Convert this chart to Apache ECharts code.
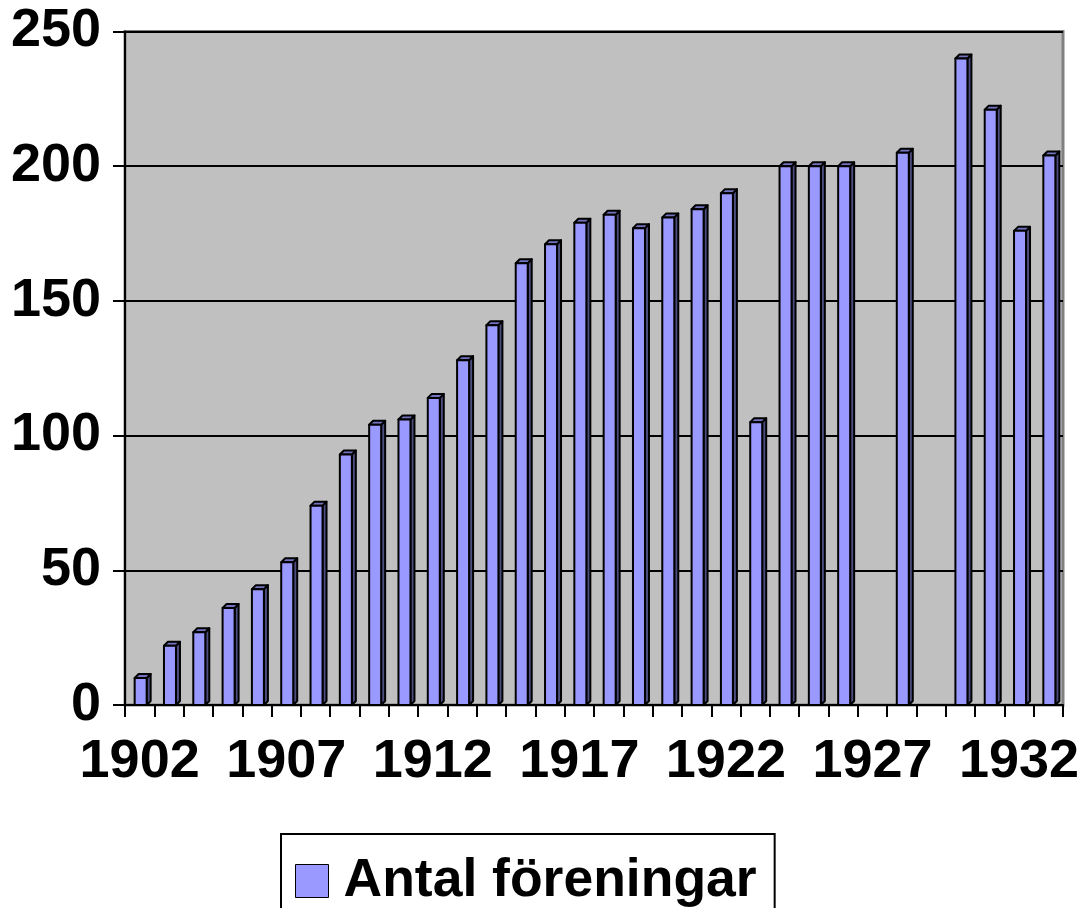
<!DOCTYPE html>
<html>
<head>
<meta charset="utf-8">
<script src="https://cdn.jsdelivr.net/npm/echarts@6/dist/echarts.min.js"></script>
<style>html,body{margin:0;padding:0;background:#fff;}#c{width:1087px;height:908px;}</style>
</head>
<body>
<div id="c"></div>
<script>
const years = ['1902','1903','1904','1905','1906','1907','1908','1909','1910','1911','1912','1913','1914','1915','1916','1917','1918','1919','1920','1921','1922','1923','1924','1925','1926','1927','1928','1929','1930','1931','1932','1933'];
const antal = [10,22,27,36,43,53,74,93,104,106,114,128,141,164,171,179,182,177,181,184,190,105,200,200,200,null,205,null,240,221,176,204];
const seriesName = 'Antal föreningar';
const yTicks = {min: 0, max: 250, interval: 50};

const FONT = "'Liberation Sans', Arial, sans-serif";
const chart = echarts.init(document.getElementById('c'), null, {renderer: 'canvas'});

function renderBar(params, api) {
  const v = api.value(1);
  if (v === null || v === undefined || isNaN(v)) return null;
  const top = api.coord([api.value(0), v]);
  const base = api.coord([api.value(0), 0]);
  const w = 12, d = 4;
  const x0 = top[0] - 5;
  const x1 = x0 + w;
  const y0 = top[1], y1 = base[1];
  const style = {stroke: '#000', lineWidth: 2, lineJoin: 'round'};
  return {
    type: 'group',
    children: [
      {type: 'polygon', shape: {points: [[x1, y0], [x1 + d, y0 - d], [x1 + d, y1 - d], [x1, y1]]}, style: Object.assign({fill: '#4d4d80'}, style)},
      {type: 'polygon', shape: {points: [[x0, y0], [x0 + d, y0 - d], [x1 + d, y0 - d], [x1, y0]]}, style: Object.assign({fill: '#7373bf'}, style)},
      {type: 'rect', shape: {x: x0, y: y0, width: w, height: y1 - y0}, style: Object.assign({fill: '#9999FF'}, style)}
    ]
  };
}

chart.setOption({
  animation: false,
  backgroundColor: '#ffffff',
  textStyle: {fontFamily: FONT},
  grid: {left: 125, right: 24, top: 31.5, bottom: 203, show: true, backgroundColor: '#C0C0C0', borderColor: '#808080', borderWidth: 3},
  legend: {
    left: 281, top: 834,
    data: [seriesName],
    itemWidth: 33, itemHeight: 33,
    itemGap: 10,
    padding: [20, 18, 20, 14],
    borderColor: '#000', borderWidth: 2,
    backgroundColor: '#fff',
    icon: 'rect',
    itemStyle: {color: '#9999FF', borderColor: '#000', borderWidth: 1},
    textStyle: {fontSize: 53.5, fontWeight: 'bold', color: '#000', fontFamily: FONT, padding: [0, 0, 0, 10]}
  },
  xAxis: {
    type: 'category',
    data: years,
    boundaryGap: true,
    axisLine: {show: true, lineStyle: {color: '#000', width: 2}},
    axisTick: {show: true, interval: 0, length: 12, lineStyle: {color: '#000', width: 2}},
    axisLabel: {interval: 4, fontSize: 54, fontWeight: 'bold', color: '#000', margin: 30, fontFamily: FONT},
    splitLine: {show: false}
  },
  yAxis: {
    type: 'value',
    min: yTicks.min, max: yTicks.max, interval: yTicks.interval,
    axisLine: {show: true, lineStyle: {color: '#000', width: 2}},
    axisTick: {show: true, length: 12, lineStyle: {color: '#000', width: 2}},
    axisLabel: {fontSize: 54, fontWeight: 'bold', color: '#000', margin: 24, fontFamily: FONT},
    splitLine: {show: true, lineStyle: {color: '#000', width: 2}}
  },
  series: [{
    name: seriesName,
    type: 'custom',
    color: '#9999FF',
    renderItem: renderBar,
    encode: {x: 0, y: 1},
    data: antal.map((v, i) => [i, v === null ? '-' : v])
  }]
});
</script>
</body>
</html>
